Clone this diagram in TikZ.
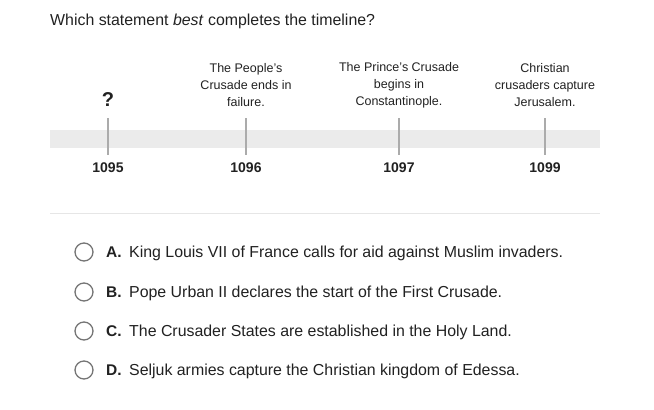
\documentclass[tikz,border=0pt]{standalone}
\usepackage{fontspec}
\setmainfont{Liberation Sans}
\usetikzlibrary{positioning}
\definecolor{bandgray}{HTML}{EBEBEB}
\definecolor{tickgray}{HTML}{ABABAB}
\definecolor{rulegray}{HTML}{E6E6E6}
\definecolor{inkdark}{HTML}{212121}
\definecolor{radiogray}{HTML}{757575}
\tikzset{
x=1pt, y=-1pt, % one unit is one pixel of the reference, y runs downwards
yearlabel/.style={font=\fontsize{14}{16}\selectfont\bfseries, text=inkdark}, % years under the band
event/.style={font=\fontsize{12.5}{17}\selectfont, align=center, text=inkdark, inner sep=0pt}, % texts over the ticks
tickline/.style={draw=tickgray, line width=1.2pt},
radio/.style={circle, draw=radiogray, line width=1.3pt, minimum size=18pt, inner sep=0pt}, % answer buttons
letter/.style={font=\fontsize{15.5}{18}\selectfont\bfseries, text=inkdark, inner sep=0pt},
choice/.style={font=\fontsize{15.9}{18}\selectfont, text=inkdark, inner sep=0pt},
}
\begin{document}
\begin{tikzpicture}
    \useasboundingbox (0,0) rectangle (654,410);
    % question
    \node[anchor=base west, inner sep=0pt, font=\fontsize{15.9}{18}\selectfont, text=inkdark] (question) at (50,25) {Which statement \emph{best} completes the timeline?};
    % timeline
    \node[fill=bandgray, minimum width=550pt, minimum height=18pt, inner sep=0pt, anchor=north west] (band) at (50,130) {};
    \foreach \x/\yr/\name in {108/1095/a, 246/1096/b, 399/1097/c, 545/1099/d} {
        \coordinate (top-\name) at (\x,118);
        \coordinate (bot-\name) at (\x,155);
        \draw[tickline] (top-\name) -- (bot-\name);
        \node[yearlabel] (year-\name) at (\x,168) {\yr};
    }
    \node[font=\fontsize{20}{22}\selectfont\bfseries, text=inkdark] (unknown) at (108,100) {?};
    \node[event] (people) at (246,85) {The People's\\Crusade ends in\\failure.};
    \node[event] (prince) at (399,85) {The Prince's Crusade\\begins in\\Constantinople.};
    \node[event] (jerusalem) at (545,85) {Christian\\crusaders capture\\Jerusalem.};
    % separator
    \coordinate (sepL) at (50,213);
    \coordinate (sepR) at (600,213);
    \draw[rulegray, line width=0.8pt] (sepL) -- (sepR);
    % answers
    \node[radio] (radioA) at (84,252) {};
    \node[radio] (radioB) at (84,292) {};
    \node[radio] (radioC) at (84,331) {};
    \node[radio] (radioD) at (84,370) {};
    \node[letter, anchor=west] (letA) at (106,252) {A.};
    \node[letter, anchor=west] (letB) at (106,292) {B.};
    \node[letter, anchor=west] (letC) at (106,331) {C.};
    \node[letter, anchor=west] (letD) at (106,370) {D.};
    \node[choice, anchor=base west] (ansA) at (129,257.5) {King Louis VII of France calls for aid against Muslim invaders.};
    \node[choice, anchor=base west] (ansB) at (129,297.5) {Pope Urban II declares the start of the First Crusade.};
    \node[choice, anchor=base west] (ansC) at (129,336.5) {The Crusader States are established in the Holy Land.};
    \node[choice, anchor=base west] (ansD) at (129,375.5) {Seljuk armies capture the Christian kingdom of Edessa.};
\end{tikzpicture}
\end{document}
